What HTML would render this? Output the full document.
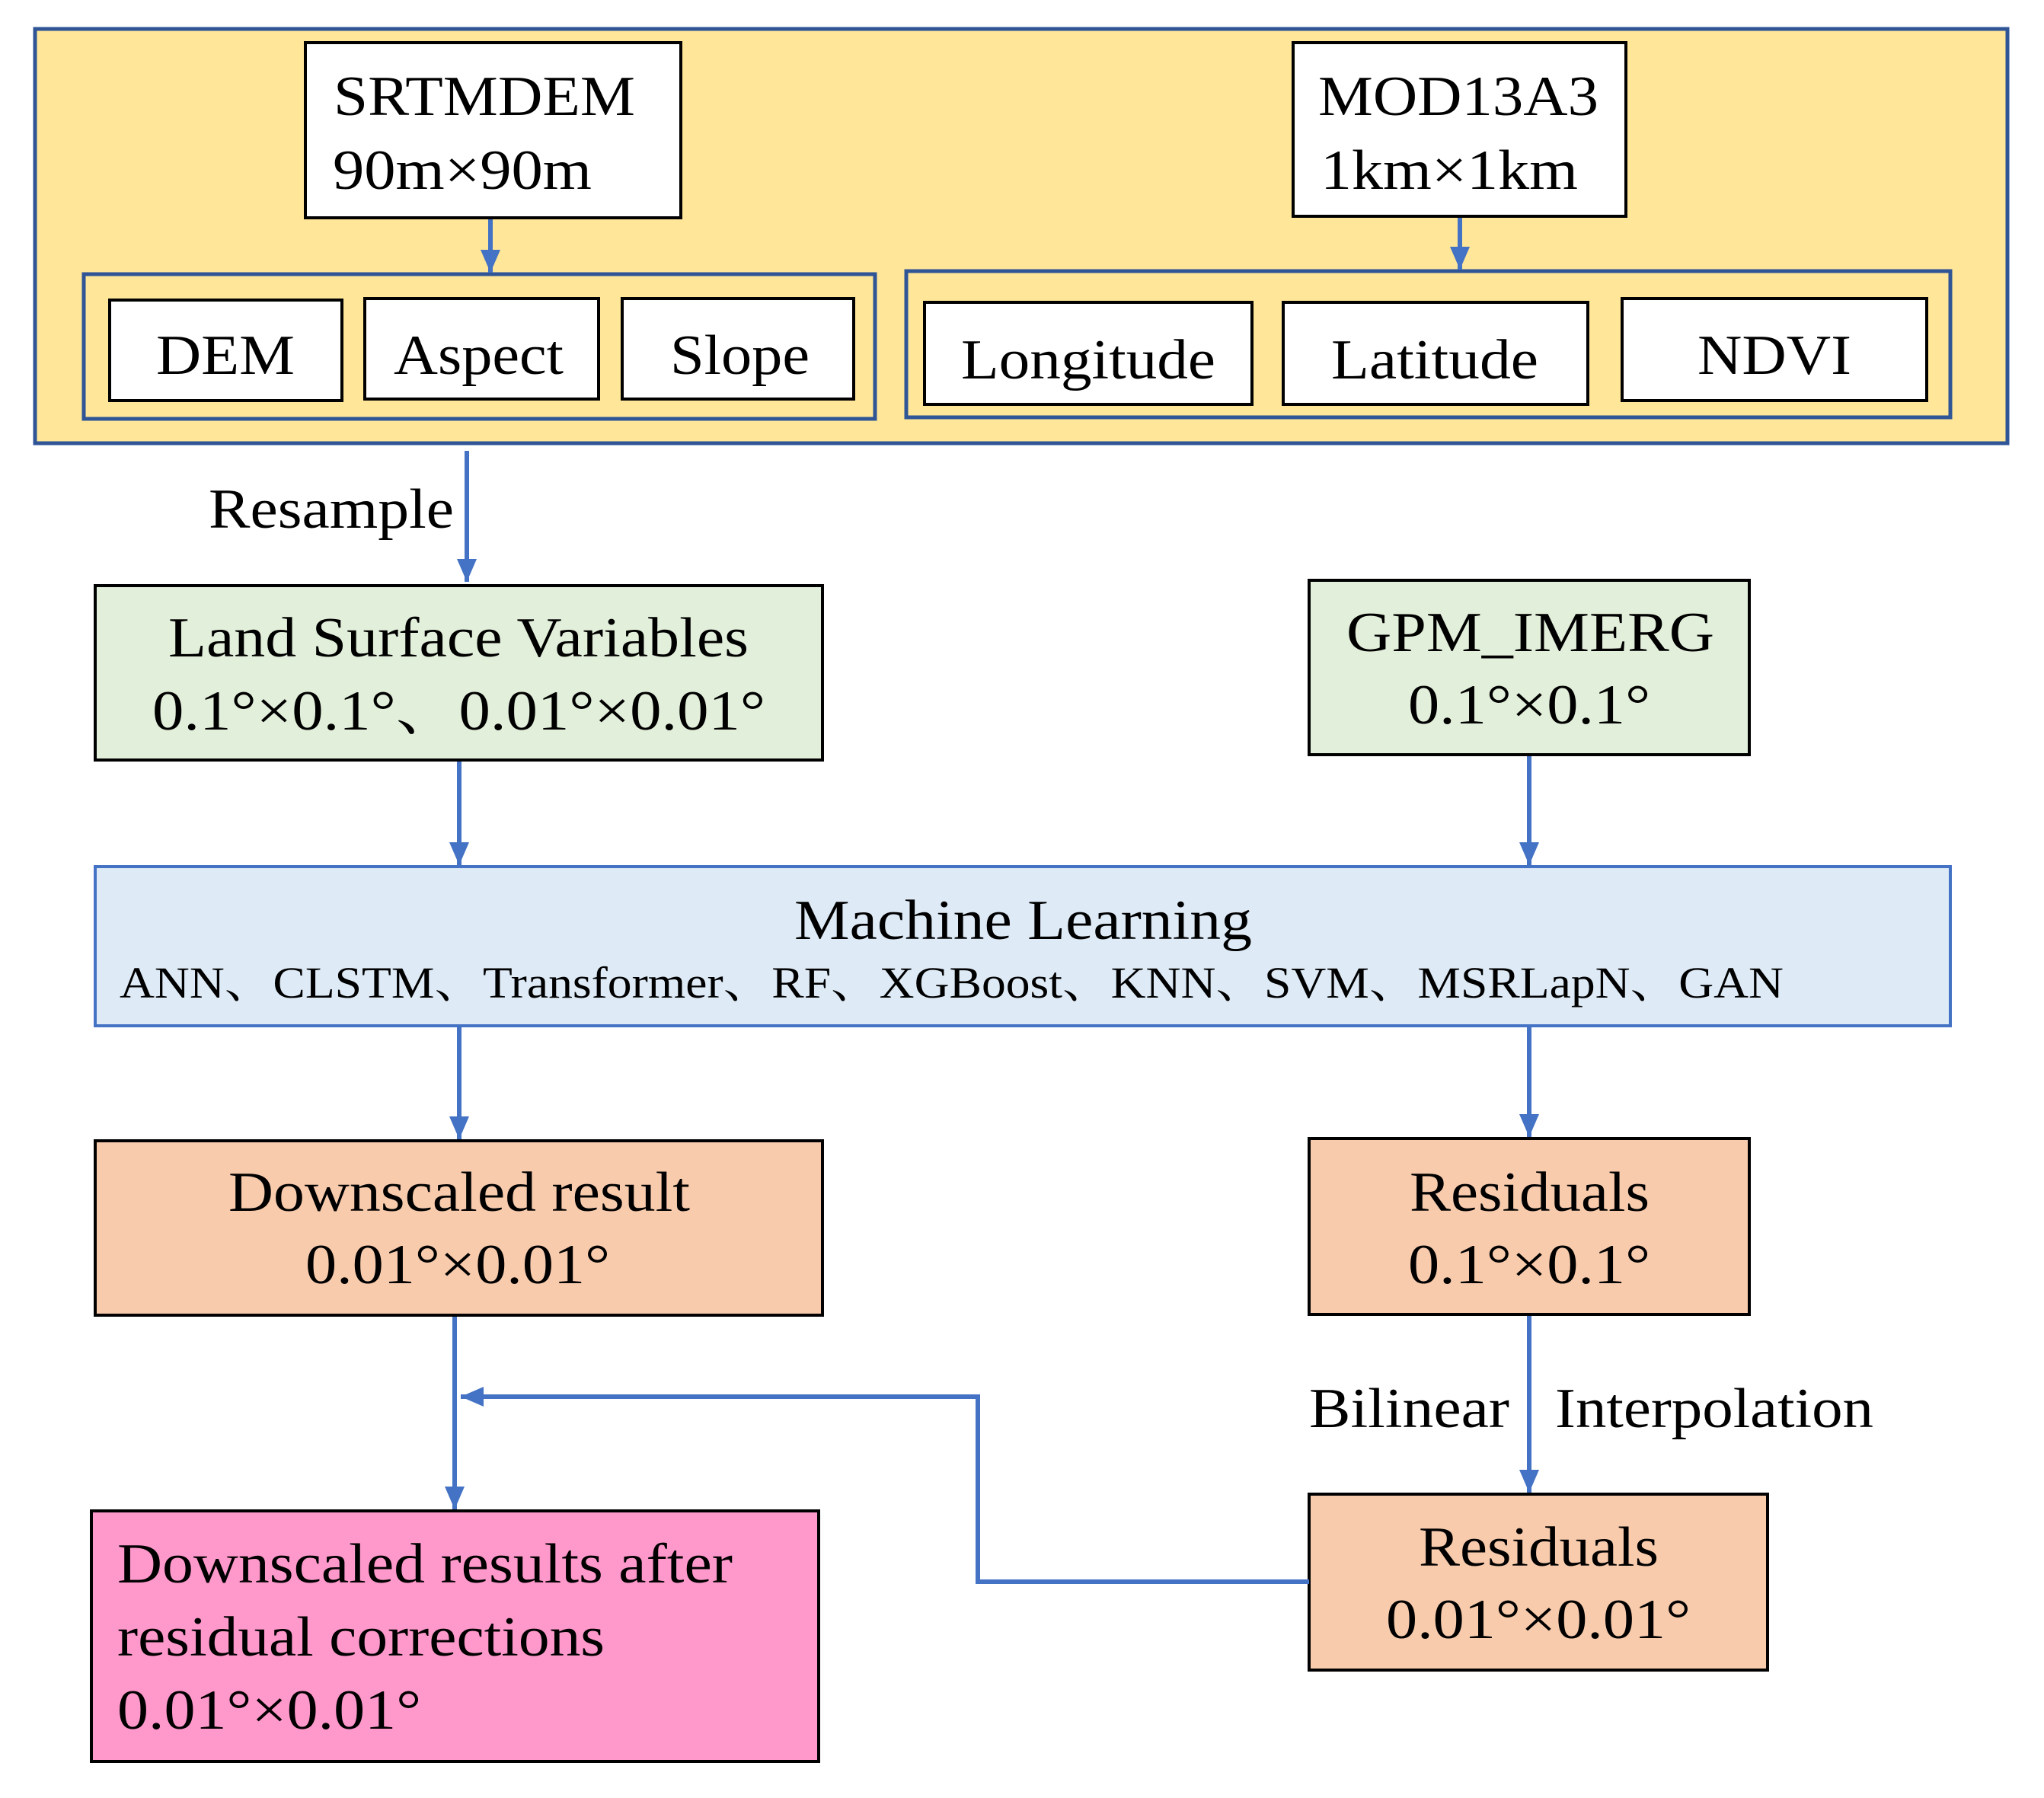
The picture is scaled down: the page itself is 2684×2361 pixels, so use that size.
<!DOCTYPE html>
<html><head><meta charset="utf-8"><style>html,body{margin:0;padding:0;background:#fff}svg{display:block}</style></head>
<body>
<svg width="2684" height="2361" viewBox="0 0 2684 2361" xmlns="http://www.w3.org/2000/svg" font-family="'Liberation Serif','Noto Serif CJK SC',serif" font-size="74" fill="#000">
<defs><marker id="a" markerWidth="30" markerHeight="26" refX="10" refY="5" orient="auto" markerUnits="userSpaceOnUse" viewBox="0 0 10 10" preserveAspectRatio="none"><path d="M0,0 L10,5 L0,10 z" fill="#4472C4"/></marker></defs>
<g>
<rect x="46" y="38" width="2590" height="544" fill="#FFE699" stroke="#2F5597" stroke-width="5"/>
<rect x="401" y="56" width="493" height="230" fill="#fff" stroke="#000" stroke-width="4"/>
<rect x="1698" y="56" width="437" height="228" fill="#fff" stroke="#000" stroke-width="4"/>
<rect x="110" y="360" width="1039" height="190" fill="none" stroke="#2F5597" stroke-width="5"/>
<rect x="1190" y="356" width="1371" height="192" fill="none" stroke="#2F5597" stroke-width="5"/>
<rect x="144" y="394" width="305" height="132" fill="#fff" stroke="#000" stroke-width="4"/>
<rect x="479" y="392" width="307" height="132" fill="#fff" stroke="#000" stroke-width="4"/>
<rect x="817" y="392" width="304" height="132" fill="#fff" stroke="#000" stroke-width="4"/>
<rect x="1214" y="397" width="430" height="134" fill="#fff" stroke="#000" stroke-width="4"/>
<rect x="1685" y="397" width="400" height="134" fill="#fff" stroke="#000" stroke-width="4"/>
<rect x="2130" y="392" width="400" height="134" fill="#fff" stroke="#000" stroke-width="4"/>
<rect x="125" y="769" width="955" height="229" fill="#E2EFDA" stroke="#000" stroke-width="4"/>
<rect x="1719" y="762" width="578" height="229" fill="#E2EFDA" stroke="#000" stroke-width="4"/>
<rect x="125" y="1138" width="2436" height="209" fill="#DEEBF7" stroke="#4472C4" stroke-width="4"/>
<rect x="125" y="1498" width="955" height="229" fill="#F8CBAD" stroke="#000" stroke-width="4"/>
<rect x="1719" y="1495" width="578" height="231" fill="#F8CBAD" stroke="#000" stroke-width="4"/>
<rect x="1719" y="1962" width="602" height="231" fill="#F8CBAD" stroke="#000" stroke-width="4"/>
<rect x="120" y="1984" width="955" height="329" fill="#FF99CC" stroke="#000" stroke-width="4"/>
</g>
<g stroke="#4472C4" stroke-width="6" fill="none" marker-end="url(#a)">
<line x1="644" y1="288" x2="644" y2="358"/>
<line x1="1917" y1="286" x2="1917" y2="354"/>
<line x1="613" y1="592" x2="613" y2="764"/>
<line x1="603" y1="1000" x2="603" y2="1136"/>
<line x1="2008" y1="993" x2="2008" y2="1136"/>
<line x1="603" y1="1349" x2="603" y2="1496"/>
<line x1="2008" y1="1349" x2="2008" y2="1493"/>
<line x1="597" y1="1729" x2="597" y2="1982"/>
<line x1="2008" y1="1728" x2="2008" y2="1960"/>
<polyline points="1719,2077 1284,2077 1284,1834 605,1834"/>
</g>
<g>
<text x="438" y="151" textLength="396" lengthAdjust="spacingAndGlyphs">SRTMDEM</text>
<text x="437" y="248" textLength="340" lengthAdjust="spacingAndGlyphs">90m×90m</text>
<text x="1731" y="151" textLength="368" lengthAdjust="spacingAndGlyphs">MOD13A3</text>
<text x="1734" y="248" textLength="338" lengthAdjust="spacingAndGlyphs">1km×1km</text>
<text x="205" y="491" textLength="182" lengthAdjust="spacingAndGlyphs">DEM</text>
<text x="517" y="491" textLength="223" lengthAdjust="spacingAndGlyphs">Aspect</text>
<text x="880" y="491" textLength="183" lengthAdjust="spacingAndGlyphs">Slope</text>
<text x="1262" y="497" textLength="334" lengthAdjust="spacingAndGlyphs">Longitude</text>
<text x="1748" y="497" textLength="272" lengthAdjust="spacingAndGlyphs">Latitude</text>
<text x="2229" y="491" textLength="202" lengthAdjust="spacingAndGlyphs">NDVI</text>
<text x="274" y="693" textLength="322" lengthAdjust="spacingAndGlyphs">Resample</text>
<text x="221" y="862" textLength="762" lengthAdjust="spacingAndGlyphs">Land Surface Variables</text>
<text x="200" y="958" textLength="805" lengthAdjust="spacingAndGlyphs">0.1°×0.1°、0.01°×0.01°</text>
<text x="1768" y="855" textLength="483" lengthAdjust="spacingAndGlyphs">GPM_IMERG</text>
<text x="1849" y="950" textLength="318" lengthAdjust="spacingAndGlyphs">0.1°×0.1°</text>
<text x="1043" y="1233" textLength="601" lengthAdjust="spacingAndGlyphs">Machine Learning</text>
<text x="157" y="1310" font-size="58" textLength="2185" lengthAdjust="spacingAndGlyphs">ANN、CLSTM、Transformer、RF、XGBoost、KNN、SVM、MSRLapN、GAN</text>
<text x="300" y="1590" textLength="606" lengthAdjust="spacingAndGlyphs">Downscaled result</text>
<text x="401" y="1685" textLength="400" lengthAdjust="spacingAndGlyphs">0.01°×0.01°</text>
<text x="1851" y="1590" textLength="315" lengthAdjust="spacingAndGlyphs">Residuals</text>
<text x="1849" y="1685" textLength="318" lengthAdjust="spacingAndGlyphs">0.1°×0.1°</text>
<text x="1719" y="1874" textLength="263" lengthAdjust="spacingAndGlyphs">Bilinear</text>
<text x="2042" y="1874" textLength="418" lengthAdjust="spacingAndGlyphs">Interpolation</text>
<text x="1863" y="2056" textLength="315" lengthAdjust="spacingAndGlyphs">Residuals</text>
<text x="1820" y="2151" textLength="400" lengthAdjust="spacingAndGlyphs">0.01°×0.01°</text>
<text x="154" y="2078" textLength="808" lengthAdjust="spacingAndGlyphs">Downscaled results after</text>
<text x="154" y="2174" textLength="640" lengthAdjust="spacingAndGlyphs">residual corrections</text>
<text x="154" y="2270" textLength="399" lengthAdjust="spacingAndGlyphs">0.01°×0.01°</text>
</g>
</svg>
</body></html>
